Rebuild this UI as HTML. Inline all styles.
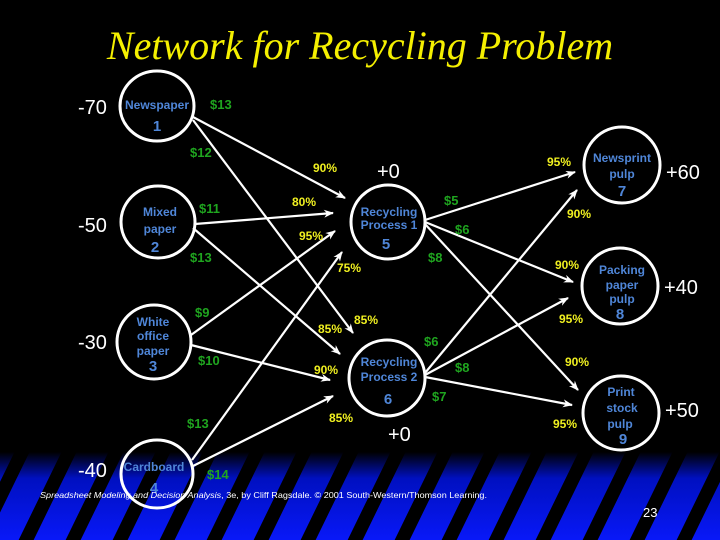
<!DOCTYPE html>
<html><head><meta charset="utf-8"><style>
html,body{margin:0;padding:0;background:#000;width:720px;height:540px;overflow:hidden}
svg{display:block}
.w{fill:#fff;font-family:"Liberation Sans",sans-serif;font-size:20px}
.g{fill:#1fa51f;font-family:"Liberation Sans",sans-serif;font-size:13px;font-weight:bold}
.y{fill:#f0f020;font-family:"Liberation Sans",sans-serif;font-size:12px;font-weight:bold}
.b{fill:#4f86d8;font-family:"Liberation Sans",sans-serif;font-size:12px;font-weight:bold}
.bn{fill:#4f86d8;font-family:"Liberation Sans",sans-serif;font-size:15px;font-weight:bold}
</style></head><body>
<svg width="720" height="540" viewBox="0 0 720 540">
<defs>
<linearGradient id="bg" x1="0" y1="0" x2="0" y2="1">
<stop offset="0" stop-color="#000"/><stop offset="0.3" stop-color="#0010c0"/><stop offset="1" stop-color="#0818f8"/>
</linearGradient>
<pattern id="st" width="47" height="100" patternUnits="userSpaceOnUse" patternTransform="skewX(-26)">
<rect x="0" y="0" width="15" height="100" fill="#000"/>
</pattern>
<marker id="a" markerWidth="10" markerHeight="8" refX="9" refY="4" orient="auto" markerUnits="userSpaceOnUse">
<path d="M0,0 L10,4 L0,8 L3,4 Z" fill="#fff"/>
</marker>
</defs>
<rect x="0" y="452" width="720" height="88" fill="url(#bg)"/>
<rect x="0" y="452" width="720" height="88" fill="url(#st)"/>
<text x="360" y="59" text-anchor="middle" font-family="Liberation Serif,serif" font-style="italic" font-size="40" fill="#f5f000">Network for Recycling Problem</text>
<g stroke="#fff" stroke-width="2.2" fill="none" marker-end="url(#a)">
<line x1="193" y1="117" x2="345" y2="198"/>
<line x1="193" y1="120" x2="353" y2="333"/>
<line x1="195" y1="224" x2="333" y2="213"/>
<line x1="193" y1="228" x2="340" y2="354"/>
<line x1="191" y1="335" x2="335" y2="231"/>
<line x1="191" y1="345" x2="330" y2="380"/>
<line x1="192" y1="460" x2="342" y2="252"/>
<line x1="193" y1="466" x2="333" y2="396"/>
<line x1="425" y1="220" x2="575" y2="172"/>
<line x1="425" y1="222" x2="573" y2="282"/>
<line x1="425" y1="224" x2="578" y2="390"/>
<line x1="425" y1="373" x2="577" y2="190"/>
<line x1="425" y1="375" x2="568" y2="298"/>
<line x1="425" y1="377" x2="572" y2="405"/>
</g>
<g stroke="#fff" stroke-width="3" fill="none">
<ellipse cx="157" cy="106" rx="37" ry="35"/>
<ellipse cx="158" cy="222" rx="37" ry="36"/>
<ellipse cx="154" cy="342" rx="37" ry="37"/>
<ellipse cx="157" cy="474" rx="36" ry="34"/>
<ellipse cx="388" cy="222" rx="37" ry="37"/>
<ellipse cx="387" cy="378" rx="38" ry="38"/>
<ellipse cx="622" cy="165" rx="38" ry="38"/>
<ellipse cx="620" cy="286" rx="38" ry="38"/>
<ellipse cx="621" cy="413" rx="38" ry="37"/>
</g>
<g text-anchor="middle">
<text class="b" x="157" y="109">Newspaper</text><text class="bn" x="157" y="131">1</text>
<text class="b" x="160" y="216">Mixed</text><text class="b" x="160" y="233">paper</text><text class="bn" x="155" y="252">2</text>
<text class="b" x="153" y="326">White</text><text class="b" x="153" y="340">office</text><text class="b" x="153" y="355">paper</text><text class="bn" x="153" y="371">3</text>
<text class="b" x="154" y="471">Cardboard</text><text class="bn" x="154" y="493">4</text>
<text class="b" x="389" y="216">Recycling</text><text class="b" x="389" y="229">Process 1</text><text class="bn" x="386" y="249">5</text>
<text class="b" x="389" y="366">Recycling</text><text class="b" x="389" y="381">Process 2</text><text class="bn" x="388" y="404">6</text>
<text class="b" x="622" y="162">Newsprint</text><text class="b" x="622" y="178">pulp</text><text class="bn" x="622" y="196">7</text>
<text class="b" x="622" y="274">Packing</text><text class="b" x="622" y="289">paper</text><text class="b" x="622" y="303">pulp</text><text class="bn" x="620" y="319">8</text>
<text class="b" x="621" y="396">Print</text><text class="b" x="622" y="412">stock</text><text class="b" x="620" y="428">pulp</text><text class="bn" x="623" y="444">9</text>
</g>
<text class="w" x="78" y="114">-70</text>
<text class="w" x="78" y="232">-50</text>
<text class="w" x="78" y="349">-30</text>
<text class="w" x="78" y="477">-40</text>
<text class="w" x="377" y="178">+0</text>
<text class="w" x="388" y="441">+0</text>
<text class="w" x="666" y="179">+60</text>
<text class="w" x="664" y="294">+40</text>
<text class="w" x="665" y="417">+50</text>
<text x="643" y="517" fill="#fff" font-family="Liberation Sans,sans-serif" font-size="13">23</text>
<text class="g" x="210" y="109">$13</text>
<text class="g" x="190" y="157">$12</text>
<text class="g" x="199" y="213">$11</text>
<text class="g" x="190" y="262">$13</text>
<text class="g" x="195" y="317">$9</text>
<text class="g" x="198" y="365">$10</text>
<text class="g" x="187" y="428">$13</text>
<text class="g" x="207" y="479">$14</text>
<text class="g" x="444" y="205">$5</text>
<text class="g" x="455" y="234">$6</text>
<text class="g" x="428" y="262">$8</text>
<text class="g" x="424" y="346">$6</text>
<text class="g" x="455" y="372">$8</text>
<text class="g" x="432" y="401">$7</text>
<text class="y" x="313" y="172">90%</text>
<text class="y" x="292" y="206">80%</text>
<text class="y" x="299" y="240">95%</text>
<text class="y" x="337" y="272">75%</text>
<text class="y" x="318" y="333">85%</text>
<text class="y" x="354" y="324">85%</text>
<text class="y" x="314" y="374">90%</text>
<text class="y" x="329" y="422">85%</text>
<text class="y" x="547" y="166">95%</text>
<text class="y" x="567" y="218">90%</text>
<text class="y" x="555" y="269">90%</text>
<text class="y" x="559" y="323">95%</text>
<text class="y" x="565" y="366">90%</text>
<text class="y" x="553" y="428">95%</text>
<text x="40" y="498" fill="#fff" font-family="Liberation Sans,sans-serif" font-size="8.3" textLength="447" lengthAdjust="spacingAndGlyphs"><tspan font-style="italic">Spreadsheet Modeling and Decision Analysis</tspan>, 3e, by Cliff Ragsdale. © 2001 South-Western/Thomson Learning.</text>
</svg>
</body></html>
